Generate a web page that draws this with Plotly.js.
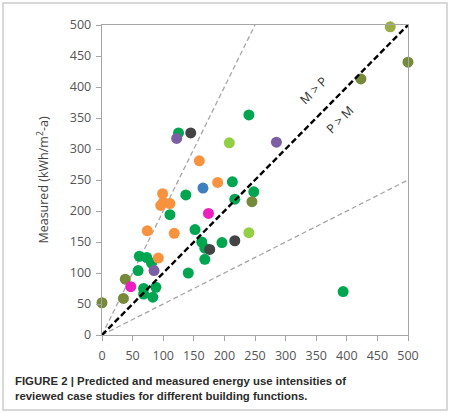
<!DOCTYPE html>
<html>
<head>
<meta charset="utf-8">
<script src="https://cdn.plot.ly/plotly-3.0.1.min.js"></script>
<style>
  html, body { margin: 0; padding: 0; background: #ffffff; }
  #chart { width: 450px; height: 413px; }
</style>
</head>
<body>
<div id="chart"></div>
<script>
// Predicted (x) and measured (y) energy use intensities, kWh/m2-a
const greenX  = [59, 61, 73, 81, 68, 68, 88, 83, 141, 111, 137, 152, 163, 168, 168, 196, 125, 213, 248, 217, 240, 394];
const greenY  = [104, 127, 125, 116, 75, 66, 77, 61, 100, 194, 226, 170, 150, 140, 122, 149, 326, 247, 231, 219, 355, 70];
const orangeX = [74, 92, 118, 99, 100, 111, 96, 159, 189];
const orangeY = [168, 124, 164, 228, 214, 212, 209, 281, 246];
const oliveX  = [0, 35, 38, 245, 423, 500];
const oliveY  = [52, 59, 90, 215, 413, 440];
const paleOliveX = [471];
const paleOliveY = [497];
const limeX   = [208, 240];
const limeY   = [310, 165];
const magentaX = [47, 174];
const magentaY = [78, 196];
const purpleX = [85, 122, 285];
const purpleY = [104, 317, 311];
const blueX   = [165];
const blueY   = [237];
const grayX   = [145, 176, 217];
const grayY   = [326, 138, 152];

// reference lines: measured = ratio * predicted
const axisMax = 500;
const ratios = [2, 1, 0.5];
const tickVals = [0, 50, 100, 150, 200, 250, 300, 350, 400, 450, 500];

function lineTrace(r, color, width, dash) {
  const xEnd = Math.min(axisMax, axisMax / r);
  return {
    x: [0, xEnd], y: [0, r * xEnd], mode: 'lines', type: 'scatter',
    line: { color: color, width: width, dash: dash },
    hoverinfo: 'skip', showlegend: false, cliponaxis: false
  };
}

function pts(x, y, color) {
  return {
    x: x, y: y, mode: 'markers', type: 'scatter', showlegend: false,
    marker: { color: color, size: 11, line: { width: 0 } }, cliponaxis: false
  };
}

const data = [
  lineTrace(ratios[0], '#a6a6a6', 1.3, '5px,3px'),
  lineTrace(ratios[2], '#a6a6a6', 1.3, '5px,3px'),
  pts(greenX, greenY, '#00a550'),
  pts(orangeX, orangeY, '#f7923f'),
  pts(oliveX, oliveY, '#77893a'),
  pts(paleOliveX, paleOliveY, '#9aae45'),
  pts(limeX, limeY, '#92cf45'),
  pts(magentaX, magentaY, '#ec1fc0'),
  pts(purpleX, purpleY, '#7c5fa3'),
  pts(blueX, blueY, '#3f7fbf'),
  pts(grayX, grayY, '#444444'),
  lineTrace(ratios[1], '#000000', 2.4, '6px,3px')
];

const axisCommon = {
  range: [0, axisMax], tickvals: tickVals, showgrid: false, zeroline: false,
  showline: true, linecolor: '#a6a6a6', linewidth: 1.3, mirror: true,
  ticks: 'outside', ticklen: 5, tickcolor: '#a6a6a6', tickwidth: 1,
  tickfont: { family: 'Open Sans, sans-serif', size: 12.5, color: '#555555' },
  fixedrange: true
};

const layout = {
  width: 450, height: 413,
  margin: { l: 102, r: 42, t: 25, b: 78 },
  paper_bgcolor: '#ffffff', plot_bgcolor: '#ffffff',
  xaxis: Object.assign({}, axisCommon, { ticklabelstandoff: 4 }),
  yaxis: Object.assign({}, axisCommon, {
    ticklabelstandoff: 2,
    title: { text: 'Measured (kWh/m<sup>2</sup>-a)', standoff: 18,
             font: { family: 'Open Sans, sans-serif', size: 12.5, color: '#444444' } }
  }),
  annotations: [
    { x: 345, y: 395, xref: 'x', yref: 'y', text: 'M &gt; P', showarrow: false, textangle: -45,
      font: { family: 'Open Sans, sans-serif', size: 12.5, color: '#333333' } },
    { x: 389, y: 347, xref: 'x', yref: 'y', text: 'P &gt; M', showarrow: false, textangle: -45,
      font: { family: 'Open Sans, sans-serif', size: 12.5, color: '#333333' } },
    { x: -0.29, y: -0.122, xref: 'paper', yref: 'paper', xanchor: 'left', yanchor: 'top', align: 'left',
      showarrow: false,
      text: '<b>FIGURE 2 | Predicted and measured energy use intensities of<br>reviewed case studies for different building functions.</b>',
      font: { family: 'Liberation Sans, Arial, sans-serif', size: 11.4, color: '#2b2b2b' } }
  ],
  shapes: [
    { type: 'rect', xref: 'paper', yref: 'paper', x0: -0.3235, x1: 1.1275, y0: -0.2419, y1: 1.071,
      line: { color: '#cccccc', width: 1.5 }, layer: 'below' }
  ]
};

Plotly.newPlot('chart', data, layout, { displayModeBar: false, staticPlot: true });
</script>
</body>
</html>
